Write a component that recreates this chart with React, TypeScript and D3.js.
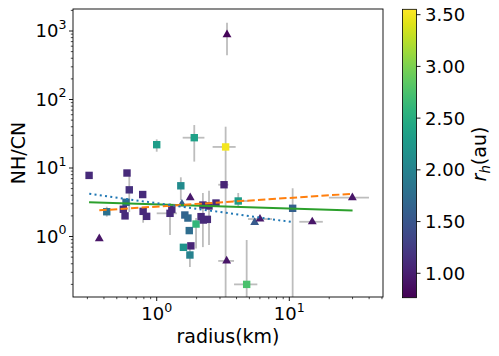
import React from 'react';
import * as d3 from 'd3';

// comet values
const radius = [0.309, 0.369, 0.42, 0.597, 0.621, 0.587, 0.56, 0.577, 0.784, 0.79, 0.84, 1.3, 1.26, 1.0, 1.92, 3.31, 3.39, 1.52, 3.22, 1.79, 4.12, 2.23, 2.48, 2.8, 1.55, 1.63, 1.72, 1.98, 2.16, 2.41, 2.25, 1.76, 1.59, 1.81, 1.78, 3.37, 4.77, 5.48, 6.01, 10.6, 14.9, 29.9];
const nhcn = [7.8, 0.93, 2.3, 8.45, 4.8, 3.16, 2.5, 2.0, 4.1, 2.33, 1.97, 2.5, 2.18, 21.9, 27.7, 20.3, 883, 5.5, 5.7, 3.7, 3.3, 2.88, 2.79, 3.08, 2.98, 2.06, 1.86, 1.52, 1.95, 1.78, 1.74, 1.22, 0.695, 0.73, 0.537, 0.44, 0.2, 1.61, 1.8, 2.58, 1.64, 3.69];
const rh = [1.1, 0.92, 1.8, 1.1, 1.15, 1.75, 1.1, 1.1, 1.1, 1.1, 1.1, 1.1, 1.1, 2.3, 2.35, 3.5, 0.8, 2.1, 1.05, 0.95, 2.3, 1.1, 1.1, 1.1, 1.6, 1.65, 1.7, 2.6, 1.1, 1.1, 1.1, 1.75, 2.2, 1.05, 2.0, 0.92, 2.75, 1.55, 0.95, 1.6, 0.92, 0.92];
const shape = ['s', '^', 's', 's', 's', 's', 's', 's', 's', 's', 's', 's', 's', 's', 's', 's', '^', 's', 's', '^', 's', 's', 's', 's', '^', 's', 's', 's', 's', 's', 's', 's', 's', 's', 's', '^', 's', '^', '^', 's', '^', '^'];

// error bar ends (null = none drawn)
const radiusLo = [null, null, null, null, null, null, null, null, null, null, null, null, 1.0, 0.94, 1.57, 2.64, null, null, 2.91, null, 3.76, null, null, null, null, null, null, null, null, null, null, null, null, null, null, 2.91, 3.83, null, 4.88, null, 11.9, 19.9];
const radiusHi = [null, null, null, null, null, null, null, null, null, null, null, null, 1.42, 1.06, 2.29, 3.94, null, null, 3.47, null, 4.91, null, null, null, null, null, null, null, null, null, null, null, null, null, null, 3.83, 5.74, null, 7.41, null, 17.9, 39.9];
const nhcnLo = [null, null, 1.95, null, 2.28, null, null, null, null, 1.59, null, null, 1.05, 17.3, 12.4, 0.01, 442, 3.41, null, null, 2.7, 0.7, 0.75, null, null, null, null, 0.67, null, null, null, null, null, null, 0.36, null, 0.01, null, null, 0.01, null, null];
const nhcnHi = [null, null, 2.72, null, 7.9, null, null, null, null, 2.4, null, null, 3.08, 26.2, 42.4, 40.1, 1322, 7.32, null, null, 4.32, 4.32, 4.66, null, null, null, null, 1.86, null, null, null, null, null, null, 0.68, null, 0.89, null, null, 5.06, null, null];

// fitted power laws (end points)
const fitGreenX = [0.309, 30.0];
const fitGreenY = [3.16, 2.4];
const fitOrangeX = [0.369, 29.6];
const fitOrangeY = [2.41, 4.2];
const fitBlueX = [0.31, 10.4];
const fitBlueY = [4.2, 1.63];

const xMajor = [1, 10];
const yMajor = [1, 10, 100, 1000];
const cbTicks = [1.0, 1.5, 2.0, 2.5, 3.0, 3.5];

const font = 'DejaVu Sans';
const plot = { left: 73, top: 9, right: 383, bottom: 297 };
const cb = { left: 402.5, right: 416.5, top: 9.3, bottom: 297.7 };
const rhMin = 0.764, rhMax = 3.552;

export default function App() {
  const x = d3.scaleLog().domain([0.2337, 50.9]).range([plot.left, plot.right]);
  const y = d3.scaleLog().domain([0.1309, 2095]).range([plot.bottom, plot.top]);
  const c = d3.scaleLinear().domain([rhMin, rhMax]).range([cb.bottom, cb.top]);
  const color = d3.scaleSequential(d3.interpolateViridis).domain([rhMin, rhMax]);

  const isMajor = (v: number) => Math.abs(Math.log10(v) - Math.round(Math.log10(v))) < 1e-6;
  const xMinor = x.ticks(20).filter(v => !isMajor(v));
  const yMinor = y.ticks(40).filter(v => !isMajor(v));

  const path = (xs: number[], ys: number[]) =>
    d3.line<number>().x(i => x(xs[i])).y(i => y(ys[i]))(xs.map((_, i) => i)) || '';

  const tri = d3.symbol().type(d3.symbolTriangle).size(34)() || '';
  const sq = 7.4;
  const gradStops = d3.range(0, 1.0001, 0.05);

  return (
    <div style={{ position: 'fixed', left: 0, top: 0 }}>
      <svg width={499} height={356} style={{ display: 'block', fontFamily: font }}>
        <defs>
          <clipPath id="plotClip">
            <rect x={plot.left} y={plot.top} width={plot.right - plot.left} height={plot.bottom - plot.top} />
          </clipPath>
          <linearGradient id="viridis" x1="0" y1="1" x2="0" y2="0">
            {gradStops.map(t => (
              <stop key={t} offset={t} stopColor={d3.interpolateViridis(t)} />
            ))}
          </linearGradient>
        </defs>
        <rect width={499} height={356} fill="white" />

        <g clipPath="url(#plotClip)">
          {/* error bars */}
          {radius.map((r, i) => (
            <g key={'e' + i} stroke="#bdbdbd" strokeWidth={1.8}>
              {radiusLo[i] != null && (
                <line x1={x(radiusLo[i] as number)} x2={x(radiusHi[i] as number)} y1={y(nhcn[i])} y2={y(nhcn[i])} />
              )}
              {nhcnLo[i] != null && (
                <line x1={x(r)} x2={x(r)} y1={y(nhcnLo[i] as number)} y2={y(nhcnHi[i] as number)} />
              )}
            </g>
          ))}
          {/* markers */}
          {radius.map((r, i) =>
            shape[i] === 's' ? (
              <rect key={'m' + i} x={x(r) - sq / 2} y={y(nhcn[i]) - sq / 2} width={sq} height={sq} fill={color(rh[i])} />
            ) : (
              <path key={'m' + i} d={tri} transform={`translate(${x(r)},${y(nhcn[i])})`} fill={color(rh[i])} />
            )
          )}
          {/* fits */}
          <path d={path(fitGreenX, fitGreenY)} stroke="#2ca02c" strokeWidth={2} fill="none" />
          <path d={path(fitOrangeX, fitOrangeY)} stroke="#ff7f0e" strokeWidth={2} strokeDasharray="7.4 3.2" fill="none" />
          <path d={path(fitBlueX, fitBlueY)} stroke="#1f77b4" strokeWidth={2} strokeDasharray="2 3.3" fill="none" />
        </g>

        <rect x={plot.left} y={plot.top} width={plot.right - plot.left} height={plot.bottom - plot.top} fill="none" stroke="black" strokeWidth={0.9} />

        {/* x axis */}
        {xMinor.map(v => (
          <line key={'xm' + v} x1={x(v)} x2={x(v)} y1={plot.bottom} y2={plot.bottom + 2.2} stroke="black" strokeWidth={0.7} />
        ))}
        {xMajor.map((v, i) => (
          <g key={'xM' + v}>
            <line x1={x(v)} x2={x(v)} y1={plot.bottom} y2={plot.bottom + 4} stroke="black" strokeWidth={0.9} />
            <text x={x(v)} y={320} fontSize={18} textAnchor="middle">
              10<tspan fontSize={12.6} dy={-8.5}>{i}</tspan>
            </text>
          </g>
        ))}
        <text x={(plot.left + plot.right) / 2} y={342.5} fontSize={19} textAnchor="middle">radius(km)</text>

        {/* y axis */}
        {yMinor.map(v => (
          <line key={'ym' + v} x1={plot.left - 2.2} x2={plot.left} y1={y(v)} y2={y(v)} stroke="black" strokeWidth={0.7} />
        ))}
        {yMajor.map((v, i) => (
          <g key={'yM' + v}>
            <line x1={plot.left - 4} x2={plot.left} y1={y(v)} y2={y(v)} stroke="black" strokeWidth={0.9} />
            <text x={66.5} y={y(v) + 6} fontSize={18} textAnchor="end">
              10<tspan fontSize={12.6} dy={-8.5}>{i}</tspan>
            </text>
          </g>
        ))}
        <text transform={`translate(25,${(plot.top + plot.bottom) / 2}) rotate(-90)`} fontSize={19} textAnchor="middle">NH/CN</text>

        {/* colorbar */}
        <rect x={cb.left} y={cb.top} width={cb.right - cb.left} height={cb.bottom - cb.top} fill="url(#viridis)" stroke="black" strokeWidth={0.8} />
        {cbTicks.map(v => (
          <g key={'c' + v}>
            <line x1={cb.right} x2={cb.right + 4} y1={c(v)} y2={c(v)} stroke="black" strokeWidth={0.9} />
            <text x={425} y={c(v) + 6.5} fontSize={18}>{v.toFixed(2)}</text>
          </g>
        ))}
        <text transform={`translate(486,154) rotate(-90)`} fontSize={19} textAnchor="middle">
          <tspan fontStyle="italic">r</tspan>
          <tspan fontStyle="italic" fontSize={13.3} dy={4}>h</tspan>
          <tspan dy={-4}>(au)</tspan>
        </text>
      </svg>
    </div>
  );
}
